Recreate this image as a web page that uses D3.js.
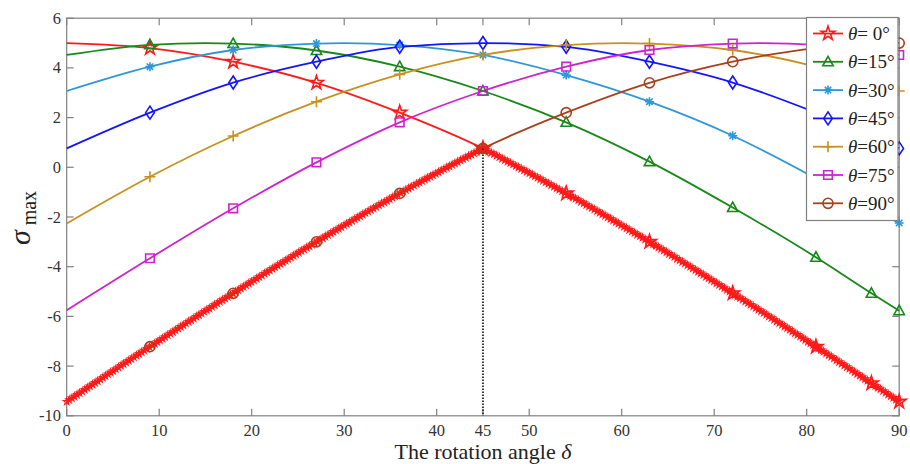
<!DOCTYPE html>
<html><head><meta charset="utf-8">
<script src="https://cdn.jsdelivr.net/npm/d3@7"></script>
<style>
body{margin:0;background:#fff;}
svg{display:block;}
text{font-family:"Liberation Serif","DejaVu Serif",serif;}
</style></head>
<body>
<svg id="chart" width="910" height="464"></svg>
<script>
// ---- data ----
const delta = [0, 9, 18, 27, 36, 45, 54, 63, 72, 81, 87, 90];
const markerDelta = [9, 18, 27, 36, 45, 54, 63, 72, 81, 87, 90];
const thetas = [0, 15, 30, 45, 60, 75, 90];
const peakValue = 5.0;
const s0  = [5.00, 4.80, 4.25, 3.40, 2.20, 0.76, -1.05, -3.00, -5.07, -7.22, -8.69, -9.43];
const s15 = [4.52, 4.93, 4.98, 4.70, 4.05, 3.07, 1.81, 0.23, -1.62, -3.62, -5.07, -5.77];
const s30 = [3.07, 4.05, 4.72, 4.98, 4.92, 4.52, 3.71, 2.64, 1.27, -0.45, -1.70, -2.24];
const s45 = [0.76, 2.20, 3.41, 4.25, 4.85, 5.00, 4.85, 4.25, 3.41, 2.20, 1.28, 0.76];
const s60 = [-2.26, -0.38, 1.26, 2.64, 3.74, 4.52, 4.92, 4.98, 4.72, 4.05, 3.40, 3.07];
const s75 = [-5.75, -3.66, -1.65, 0.20, 1.81, 3.07, 4.05, 4.72, 4.98, 4.93, 4.70, 4.52];
const s90 = [-9.43, -7.22, -5.07, -3.00, -1.05, 0.76, 2.20, 3.40, 4.25, 4.80, 4.97, 5.00];
const legendLabels = ["= 0°", "=15°", "=30°", "=45°", "=60°", "=75°", "=90°"];
const xTicks = [0, 10, 20, 30, 40, 45, 50, 60, 70, 80, 90];
const yTicks = [-10, -8, -6, -4, -2, 0, 2, 4, 6];

const colors = ["#ff1a1a", "#17891a", "#2f97d6", "#1414ff", "#c8901e", "#cf22cf", "#a8401c"];
const markerTypes = ["star", "triangle", "asterisk", "diamond", "plus", "square", "circle"];
const seriesValues = [s0, s15, s30, s45, s60, s75, s90];

// ---- layout ----
const svg = d3.select("#chart");
const x = d3.scaleLinear().domain([0, 90]).range([66.7, 899.2]);
const y = d3.scaleLinear().domain([-10, 6]).range([415.8, 18.2]);
const axisColor = "#808080";
const labelColor = "#333";

function markerPath(type) {
  switch (type) {
    case "star": return d3.symbol().type(d3.symbolStar).size(60)();
    case "triangle": return "M0,-5.5L5.2,4L-5.2,4Z";
    case "asterisk": return "M-4.5,0H4.5M0,-4.5V4.5M-3.2,-3.2L3.2,3.2M-3.2,3.2L3.2,-3.2";
    case "diamond": return "M0,-6.5L4.3,0L0,6.5L-4.3,0Z";
    case "plus": return "M-5.5,0H5.5M0,-5.5V5.5";
    case "square": return "M-4.3,-4.3H4.3V4.3H-4.3Z";
    case "circle": return d3.symbol().type(d3.symbolCircle).size(80)();
  }
}

const line = d3.line().x(d => x(d[0])).y(d => y(d[1])).curve(d3.curveMonotoneX);

function seriesPoints(i) {
  const pts = delta.map((d, k) => [d, seriesValues[i][k]]);
  if (!delta.includes(thetas[i])) pts.push([thetas[i], peakValue]);
  pts.sort((a, b) => a[0] - b[0]);
  return pts;
}

// axes box and ticks
const gAxes = svg.append("g");
gAxes.append("rect").attr("x", x(0)).attr("y", y(6)).attr("width", x(90) - x(0)).attr("height", y(-10) - y(6))
  .attr("fill", "none").attr("stroke", axisColor).attr("stroke-width", 1.2);
const tl = 7;
xTicks.forEach(t => {
  gAxes.append("line").attr("x1", x(t)).attr("x2", x(t)).attr("y1", y(-10)).attr("y2", y(-10) - tl).attr("stroke", axisColor).attr("stroke-width", 1.2);
  gAxes.append("line").attr("x1", x(t)).attr("x2", x(t)).attr("y1", y(6)).attr("y2", y(6) + tl).attr("stroke", axisColor).attr("stroke-width", 1.2);
  gAxes.append("text").attr("x", x(t)).attr("y", 436).attr("text-anchor", "middle").attr("font-size", 16.5).attr("fill", labelColor).text(t);
});
yTicks.forEach(t => {
  gAxes.append("line").attr("x1", x(0)).attr("x2", x(0) + tl).attr("y1", y(t)).attr("y2", y(t)).attr("stroke", axisColor).attr("stroke-width", 1.2);
  gAxes.append("line").attr("x1", x(90)).attr("x2", x(90) - tl).attr("y1", y(t)).attr("y2", y(t)).attr("stroke", axisColor).attr("stroke-width", 1.2);
  gAxes.append("text").attr("x", 61).attr("y", y(t) + 5.5).attr("text-anchor", "end").attr("font-size", 16.5).attr("fill", labelColor).text(t);
});

// axis labels
const xl = svg.append("text").attr("x", x(45)).attr("y", 459).attr("text-anchor", "middle").attr("font-size", 22).attr("fill", "#222");
xl.append("tspan").text("The rotation angle ");
xl.append("tspan").attr("font-style", "italic").text("δ");

const yl = svg.append("text").attr("transform", "translate(30,218) rotate(-90)").attr("text-anchor", "middle").attr("fill", "#222");
yl.append("tspan").attr("font-size", 30).attr("font-style", "italic").text("σ");
yl.append("tspan").attr("font-size", 20).attr("dy", 6).text(" max");

// series lines
const gLines = svg.append("g");
seriesValues.forEach((v, i) => {
  gLines.append("path").attr("d", line(seriesPoints(i))).attr("fill", "none").attr("stroke", colors[i]).attr("stroke-width", 1.8);
});

// lower envelope (thick red starred line): min of the theta=0 and theta=90 curves, split at its apex
const envVals = delta.map((d, k) => Math.min(s0[k], s90[k]));
const apex = d3.maxIndex(envVals);
const envLeft = delta.slice(0, apex + 1).map((d, k) => [d, envVals[k]]);
const envRight = delta.slice(apex).map((d, k) => [d, envVals[k + apex]]);
const starSmall = d3.symbol().type(d3.symbolStar).size(15)();
[envLeft, envRight].forEach(pts => {
  const p = gLines.append("path").attr("d", line(pts)).attr("fill", "none").attr("stroke", colors[0]).attr("stroke-width", 2.5);
  const node = p.node();
  const L = node.getTotalLength();
  for (let s = 0; s <= L; s += 3.1) {
    const q = node.getPointAtLength(s);
    gLines.append("path").attr("d", starSmall).attr("transform", `translate(${q.x},${q.y})`)
      .attr("fill", "none").attr("stroke", colors[0]).attr("stroke-width", 1.1);
  }
});

// vertical dotted line at delta=45
svg.append("line").attr("x1", x(delta[apex])).attr("x2", x(delta[apex])).attr("y1", y(envVals[apex])).attr("y2", y(-10))
  .attr("stroke", "#333").attr("stroke-width", 2).attr("stroke-dasharray", "1.6,1.4");

// series markers
const gMarks = svg.append("g");
seriesValues.forEach((v, i) => {
  markerDelta.forEach(d => {
    const k = delta.indexOf(d);
    gMarks.append("path").attr("d", markerPath(markerTypes[i]))
      .attr("transform", `translate(${x(d)},${y(v[k])})`)
      .attr("fill", "none").attr("stroke", colors[i]).attr("stroke-width", 1.6);
  });
});

// legend
const lg = svg.append("g");
lg.append("rect").attr("x", 806.5).attr("y", 17.5).attr("width", 91.5).attr("height", 203)
  .attr("fill", "#fff").attr("stroke", axisColor).attr("stroke-width", 1.2);
legendLabels.forEach((lab, i) => {
  const cy = 33.5 + i * 28.3;
  lg.append("line").attr("x1", 813).attr("x2", 843).attr("y1", cy).attr("y2", cy).attr("stroke", colors[i]).attr("stroke-width", 1.8);
  lg.append("path").attr("d", markerPath(markerTypes[i])).attr("transform", `translate(828,${cy})`)
    .attr("fill", "none").attr("stroke", colors[i]).attr("stroke-width", 1.6);
  const t = lg.append("text").attr("x", 848).attr("y", cy + 6.5).attr("font-size", 19).attr("fill", "#222");
  t.append("tspan").attr("font-style", "italic").text("θ");
  t.append("tspan").text(lab);
});
</script>
</body></html>
